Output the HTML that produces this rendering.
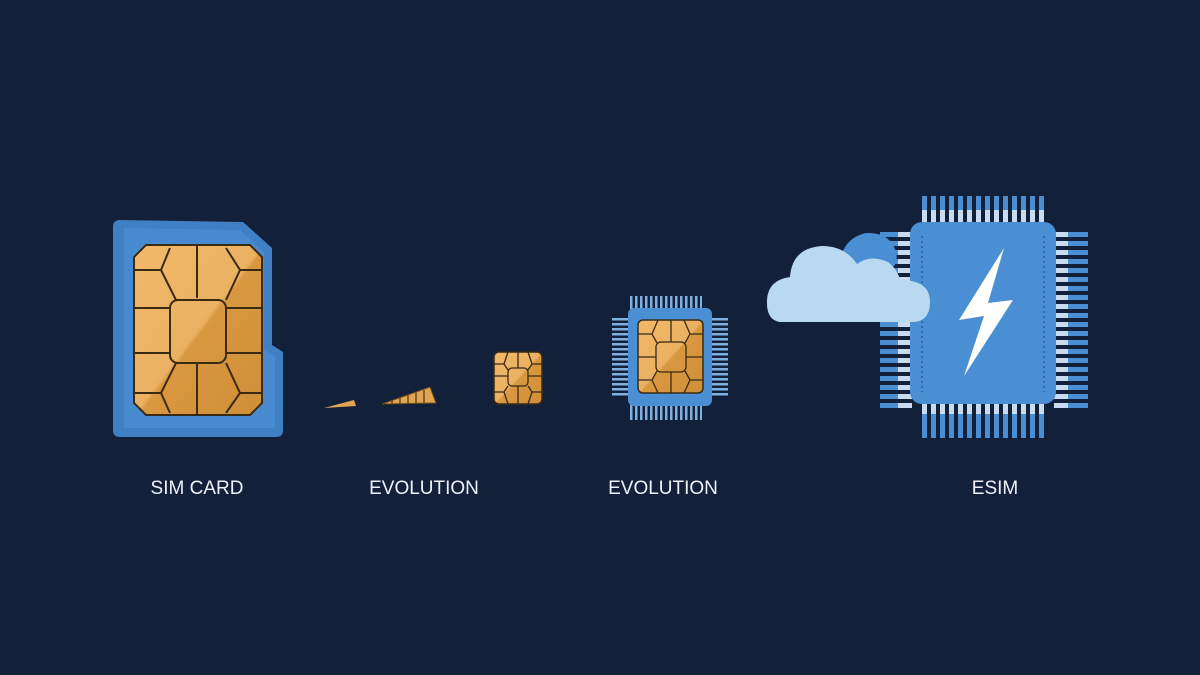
<!DOCTYPE html>
<html><head><meta charset="utf-8"><style>
html,body{margin:0;padding:0;background:#13203a;}
svg{display:block}
text{font-family:"Liberation Sans",sans-serif;font-size:19px;fill:#eef2f8;text-anchor:middle;}
</style></head><body>
<svg width="1200" height="675" viewBox="0 0 1200 675" xmlns="http://www.w3.org/2000/svg">
<defs>
<pattern id="vp" width="9" height="10" patternUnits="userSpaceOnUse" x="922"><rect x="0" y="0" width="5" height="10" fill="#4a8fd4"/></pattern>
<pattern id="vpl" width="9" height="10" patternUnits="userSpaceOnUse" x="922"><rect x="0" y="0" width="5" height="10" fill="#c9dcef"/></pattern>
<pattern id="hp" width="10" height="9" patternUnits="userSpaceOnUse" y="232"><rect x="0" y="0" width="10" height="5" fill="#4a8fd4"/></pattern>
<pattern id="hpl" width="10" height="9" patternUnits="userSpaceOnUse" y="232"><rect x="0" y="0" width="10" height="5" fill="#c9dcef"/></pattern>
<pattern id="sv" width="5" height="10" patternUnits="userSpaceOnUse" x="630"><rect x="0" y="0" width="2.5" height="10" fill="#7fb0e0"/></pattern>
<pattern id="sh" width="10" height="5" patternUnits="userSpaceOnUse" y="318"><rect x="0" y="0" width="10" height="2.5" fill="#7fb0e0"/></pattern>
<linearGradient id="gold" x1="0" y1="0" x2="1" y2="1"><stop offset="0" stop-color="#f3b969"/><stop offset="0.5" stop-color="#eab163"/><stop offset="0.52" stop-color="#d9983f"/><stop offset="1" stop-color="#cf8f38"/></linearGradient>
</defs>

<!-- SIM card -->
<path d="M120 220 L243 222 L272 248 L272 345 L283 352 L283 430 Q283 437 276 437 L120 437 Q113 437 113 430 L113 227 Q113 220 120 220Z" fill="#3f7fc4"/>
<path d="M124 228 L240 230 L264 252 L264 350 L275 356 L275 428 L124 428Z" fill="#4b8fd6" opacity="0.7"/>
<path d="M146 245 L250 245 L262 257 L262 403 L250 415 L146 415 L134 403 L134 257Z" fill="url(#gold)" stroke="#3a2a14" stroke-width="2"/>
<g stroke="#3a2a14" stroke-width="2" fill="none">
<rect x="170" y="300" width="56" height="63" rx="8"/>
<path d="M134 270 L161 270 L176 300 M161 270 L170 248 M197 245 L197 298 M226 300 L240 270 L262 270 M240 270 L226 248"/>
<path d="M134 308 L170 308 M226 308 L262 308 M134 353 L170 353 M226 353 L262 353"/>
<path d="M134 393 L161 393 L176 363 M161 393 L170 413 M197 363 L197 415 M226 363 L240 393 L262 393 M240 393 L226 413"/>
</g>

<!-- tiny slivers -->
<path d="M324 408 L354 400 L356 406 Z" fill="#e0a552"/>
<path d="M382 404 L430 387 L436 403 L382 404Z" fill="#e0a552" stroke="#6a4a1c" stroke-width="1"/>
<g stroke="#6a4a1c" stroke-width="1.5"><path d="M392 400 L392 404 M400 397 L400 404 M408 395 L408 404 M416 392 L416 404 M424 390 L424 404"/></g>

<!-- small chip -->
<rect x="494" y="352" width="48" height="52" rx="5" fill="url(#gold)" stroke="#3a2a14" stroke-width="1.5"/>
<g stroke="#3a2a14" stroke-width="1.3" fill="none">
<rect x="508" y="368" width="20" height="18" rx="4"/>
<path d="M494 364 L504 364 L508 370 M504 364 L508 352 M518 352 L518 368 M528 370 L532 364 L542 364 M532 364 L528 352 M494 392 L504 392 L508 386 M504 392 L508 404 M518 386 L518 404 M528 386 L532 392 L542 392 M532 392 L528 404 M494 376 L508 376 M528 376 L542 376"/>
</g>

<!-- medium chip -->
<rect x="630" y="296" width="72" height="14" fill="url(#sv)"/>
<rect x="630" y="404" width="72" height="16" fill="url(#sv)"/>
<rect x="612" y="318" width="16" height="80" fill="url(#sh)"/>
<rect x="712" y="318" width="16" height="80" fill="url(#sh)"/>
<rect x="628" y="308" width="84" height="98" rx="6" fill="#4a8fd4"/>
<rect x="638" y="320" width="65" height="73" rx="5" fill="url(#gold)" stroke="#3a2a14" stroke-width="1.5"/>
<g stroke="#3a2a14" stroke-width="1.3" fill="none">
<rect x="656" y="342" width="30" height="30" rx="5"/>
<path d="M638 334 L652 334 L657 343 M652 334 L658 320 M671 320 L671 342 M685 343 L690 334 L703 334 M690 334 L684 320 M638 380 L652 380 L657 371 M652 380 L658 393 M671 372 L671 393 M685 371 L690 380 L703 380 M690 380 L684 393 M638 357 L656 357 M686 357 L703 357"/>
</g>

<!-- eSIM chip pins -->
<rect x="922" y="196" width="126" height="28" fill="url(#vp)"/>
<rect x="922" y="210" width="126" height="14" fill="url(#vpl)"/>
<rect x="922" y="402" width="126" height="36" fill="url(#vp)"/>
<rect x="922" y="402" width="126" height="12" fill="url(#vpl)"/>
<rect x="880" y="232" width="32" height="180" fill="url(#hp)"/>
<rect x="898" y="232" width="14" height="180" fill="url(#hpl)"/>
<rect x="1054" y="232" width="34" height="180" fill="url(#hp)"/>
<rect x="1054" y="232" width="14" height="180" fill="url(#hpl)"/>
<rect x="910" y="222" width="146" height="182" rx="12" fill="#4a8fd4"/>
<line x1="922" y1="236" x2="922" y2="392" stroke="#2f6db0" stroke-width="2" stroke-dasharray="2 3"/>
<line x1="1044" y1="236" x2="1044" y2="392" stroke="#2f6db0" stroke-width="2" stroke-dasharray="2 3"/>
<path d="M1004 248 L959 320 L984 316 L964 376 L1013 300 L988 303 Z" fill="#ffffff"/>

<!-- cloud -->
<path d="M838 268 Q842 238 866 233 Q890 232 896 252 Q900 270 880 272Z" fill="#4a8fd4"/>
<path d="M780 322 Q766 320 767 300 Q768 280 790 277 Q792 248 822 246 Q845 246 857 264 Q870 254 888 262 Q898 270 900 280 Q930 280 930 302 Q930 322 912 322 Z" fill="#b9d9f0"/>

<text x="197" y="494">SIM CARD</text>
<text x="424" y="494">EVOLUTION</text>
<text x="663" y="494">EVOLUTION</text>
<text x="995" y="494">ESIM</text>
</svg>
</body></html>
